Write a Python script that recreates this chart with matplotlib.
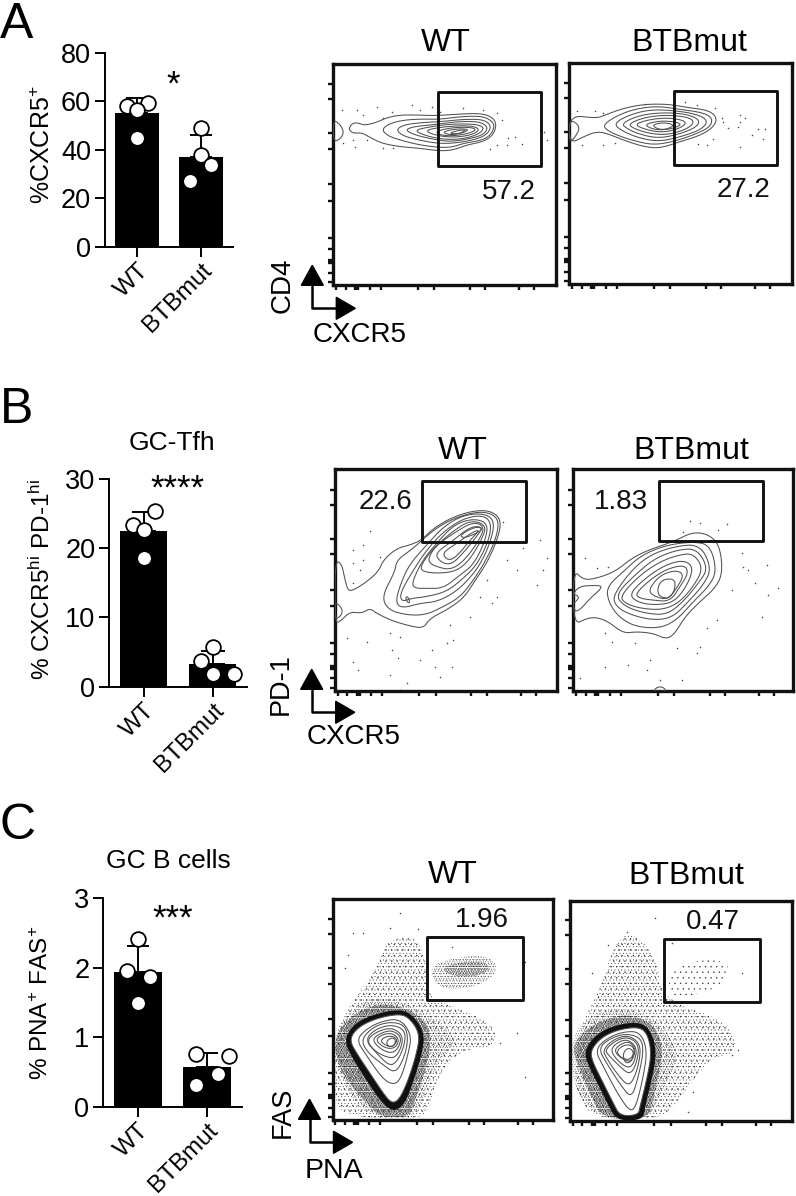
import matplotlib
matplotlib.use("Agg")
import matplotlib.pyplot as plt
from matplotlib.patches import Polygon, Rectangle
import numpy as np

plt.rcParams['font.family'] = ['Liberation Sans', 'DejaVu Sans']
plt.rcParams['mathtext.fontset'] = 'custom'
plt.rcParams['mathtext.rm'] = 'Liberation Sans'
plt.rcParams['mathtext.default'] = 'rm'
plt.rcParams['hatch.linewidth'] = 0.2

W, H = 796, 1196

# bar data
groups = ['WT', 'BTBmut']
a_means = [55, 37]
a_tops = [61.5, 46]
a_wt = [58.2, 59.3, 56.4, 44.7]
a_wt_x = [-0.16, 0.167, 0, 0]
a_mut = [49, 37.7, 33.6, 27]
a_mut_x = [0, 0, 0.156, -0.167]

b_means = [22.5, 3.3]
b_tops = [25.3, 5.1]
b_wt = [23.3, 25.4, 22.6, 18.6]
b_wt_x = [-0.155, 0.164, 0, 0]
b_mut = [5.8, 3.7, 1.8, 1.9]
b_mut_x = [0, -0.174, 0, 0.31]

c_means = [1.94, 0.576]
c_tops = [2.31, 0.78]
c_wt = [2.42, 1.96, 1.87, 1.5]
c_wt_x = [0, -0.164, 0.173, 0]
c_mut = [0.76, 0.73, 0.47, 0.31]
c_mut_x = [-0.163, 0.317, 0.154, -0.159]

# flow axis tick places, counted from the lower left corner of a frame
flow_ticks = [8, 37, 65, 70, 75, 109, 142, 253, 302, 409, 455, 557, 602]

# contour outlines, biggest first
a_wt_lines = [
    [(40, 208), (62, 225), (72, 248), (60, 268), (40, 275)],
    [(88, 232), (100, 218), (118, 220), (135, 226), (170, 217), (200, 203), (240, 195), (290, 195), (350, 197), (420, 192), (480, 190), (515, 200), (530, 222), (520, 255), (490, 275), (440, 285), (400, 300), (360, 303), (300, 295), (240, 290), (185, 280), (150, 262), (125, 248), (100, 250), (88, 240)],
    [(185, 240), (205, 222), (250, 210), (310, 207), (360, 208), (420, 200), (480, 198), (510, 208), (525, 228), (510, 258), (480, 272), (430, 280), (395, 292), (350, 292), (290, 283), (240, 270), (205, 258)],
    [(228, 240), (250, 225), (300, 218), (360, 215), (430, 208), (490, 208), (515, 228), (500, 255), (460, 270), (400, 280), (350, 280), (295, 270), (250, 258)],
    [(255, 240), (280, 230), (340, 224), (420, 214), (480, 215), (505, 232), (490, 255), (440, 268), (390, 275), (340, 268), (285, 255)],
    [(282, 242), (320, 232), (390, 222), (470, 222), (495, 235), (470, 256), (420, 268), (370, 268), (320, 258)],
    [(310, 242), (370, 230), (450, 226), (482, 238), (455, 255), (405, 262), (355, 258)],
    [(345, 244), (400, 232), (455, 232), (470, 240), (440, 252), (395, 258), (360, 255)],
    [(365, 246), (410, 236), (450, 238), (425, 250), (390, 255)],
    [(385, 250), (420, 240), (440, 240), (415, 252)],
]
a_mut_lines = [
    [(28, 205), (62, 230), (45, 262), (28, 280)],
    [(28, 195), (110, 205), (135, 195), (190, 175), (250, 163), (320, 162), (380, 172), (440, 180), (465, 195), (470, 215), (450, 240), (410, 260), (360, 275), (300, 295), (250, 290), (190, 270), (140, 250), (110, 245), (75, 258), (28, 282)],
    [(130, 225), (165, 200), (220, 178), (290, 168), (360, 178), (430, 188), (458, 205), (450, 232), (400, 255), (340, 275), (280, 285), (220, 272), (170, 255), (140, 240)],
    [(160, 222), (200, 198), (260, 180), (330, 180), (410, 192), (445, 212), (425, 238), (370, 258), (300, 275), (240, 265), (190, 245)],
    [(185, 222), (225, 200), (290, 188), (370, 190), (420, 208), (410, 232), (350, 255), (290, 265), (230, 250), (200, 235)],
    [(205, 222), (250, 203), (310, 195), (380, 200), (405, 215), (380, 238), (320, 255), (265, 250), (220, 235)],
    [(225, 222), (270, 208), (330, 203), (385, 215), (355, 238), (300, 248), (245, 235)],
    [(250, 224), (300, 212), (350, 216), (365, 225), (330, 238), (285, 240)],
    [(275, 225), (310, 217), (345, 225), (320, 238), (295, 238)],
]
b_wt_lines = [
    [(45, 272), (65, 280), (75, 330), (85, 365), (110, 355), (140, 335), (175, 305), (190, 270), (230, 235), (270, 225), (305, 210), (340, 175), (400, 140), (470, 120), (520, 125), (545, 155), (530, 215), (500, 280), (460, 340), (430, 385), (380, 420), (330, 445), (310, 475), (270, 468), (215, 452), (170, 430), (150, 415), (125, 430), (90, 425), (60, 455), (45, 458)],
    [(45, 395), (62, 410), (68, 425), (60, 440), (45, 448)],
    [(185, 380), (225, 305), (230, 270), (280, 235), (340, 180), (400, 145), (470, 125), (515, 130), (538, 155), (525, 215), (490, 285), (450, 345), (415, 385), (360, 415), (315, 435), (260, 435), (205, 420)],
    [(225, 395), (250, 320), (275, 275), (320, 225), (370, 170), (430, 135), (495, 130), (525, 155), (510, 220), (480, 285), (440, 335), (400, 370), (350, 395), (300, 400), (245, 415)],
    [(240, 370), (280, 300), (320, 240), (370, 185), (430, 145), (490, 135), (515, 160), (505, 215), (470, 285), (430, 325), (380, 365), (320, 380), (275, 385), (245, 395)],
    [(275, 340), (305, 275), (345, 225), (400, 165), (460, 145), (505, 160), (495, 215), (460, 285), (420, 315), (370, 355), (320, 355), (285, 355)],
    [(300, 290), (335, 240), (390, 190), (450, 150), (500, 165), (485, 210), (445, 275), (405, 305), (350, 310), (310, 305)],
    [(325, 265), (345, 230), (400, 190), (460, 155), (495, 170), (475, 215), (430, 275), (390, 300), (350, 290), (330, 280)],
    [(345, 250), (395, 215), (450, 170), (490, 170), (470, 200), (420, 260), (390, 285), (360, 275)],
    [(365, 250), (410, 220), (460, 185), (480, 180), (455, 205), (410, 260), (385, 272)],
    [(420, 195), (465, 170), (490, 175), (470, 190), (430, 205)],
    [(256, 385), (262, 378), (270, 395), (265, 400)],
]
b_mut_lines = [
    [(40, 298), (70, 330), (110, 325), (165, 305), (215, 265), (265, 240), (340, 215), (400, 185), (450, 195), (480, 230), (488, 310), (465, 355), (420, 395), (375, 440), (345, 490), (320, 508), (280, 490), (230, 485), (190, 490), (145, 455), (110, 442), (80, 445), (40, 465)],
    [(40, 350), (120, 345), (125, 355), (90, 385), (60, 420), (40, 425)],
    [(40, 372), (58, 380), (48, 395), (40, 398)],
    [(140, 350), (195, 300), (245, 255), (320, 225), (400, 215), (450, 225), (470, 300), (450, 345), (400, 395), (350, 450), (300, 475), (225, 470), (175, 440), (145, 395)],
    [(160, 375), (215, 300), (270, 255), (340, 230), (420, 222), (455, 295), (430, 345), (385, 395), (335, 445), (270, 450), (200, 430), (165, 405)],
    [(165, 375), (230, 310), (285, 265), (350, 240), (410, 235), (445, 295), (415, 340), (370, 395), (320, 435), (255, 430), (195, 410)],
    [(180, 378), (240, 315), (300, 275), (355, 255), (400, 250), (430, 295), (400, 350), (355, 400), (305, 420), (240, 415), (195, 400)],
    [(205, 375), (255, 325), (315, 285), (370, 270), (400, 290), (385, 340), (345, 395), (295, 405), (240, 400)],
    [(225, 372), (275, 325), (325, 295), (375, 285), (385, 310), (360, 350), (330, 395), (275, 390), (240, 385)],
    [(265, 360), (300, 315), (350, 300), (372, 315), (350, 355), (322, 390), (280, 378)],
    [(290, 375), (300, 330), (345, 325), (345, 360), (325, 388)],
    [(280, 664), (290, 652), (308, 650), (320, 664)],
]
c_wt_lines = [
    [(88, 450), (110, 415), (160, 388), (230, 372), (265, 380), (300, 430), (290, 490), (265, 570), (240, 625), (220, 640), (200, 625), (150, 550), (110, 490)],
    [(110, 450), (135, 420), (180, 395), (240, 385), (275, 435), (265, 490), (245, 560), (225, 585), (190, 570), (135, 490)],
    [(122, 450), (160, 410), (210, 395), (255, 405), (265, 450), (250, 510), (225, 550), (190, 525), (145, 490)],
    [(135, 450), (165, 418), (215, 403), (255, 420), (255, 460), (235, 510), (210, 530), (170, 490)],
    [(140, 450), (170, 425), (215, 412), (248, 435), (245, 470), (225, 505), (195, 500), (160, 480)],
    [(155, 450), (180, 430), (215, 420), (245, 440), (235, 475), (215, 490), (185, 480)],
    [(165, 450), (190, 432), (220, 430), (238, 450), (225, 475), (195, 475)],
    [(180, 452), (200, 438), (225, 440), (232, 455), (215, 472), (195, 465)],
    [(198, 455), (215, 442), (228, 450), (222, 468), (205, 470)],
]
c_mut_lines = [
    [(90, 485), (120, 445), (170, 420), (235, 410), (262, 430), (275, 490), (260, 570), (240, 650), (235, 675), (180, 678), (160, 640), (120, 560), (100, 520)],
    [(105, 480), (140, 445), (190, 425), (240, 425), (262, 480), (250, 560), (228, 650), (210, 665), (175, 615), (130, 530)],
    [(115, 475), (150, 445), (200, 430), (245, 445), (250, 490), (235, 560), (215, 625), (185, 590), (140, 520)],
    [(128, 480), (160, 448), (205, 435), (240, 460), (240, 505), (225, 560), (205, 590), (170, 550), (140, 505)],
    [(135, 480), (165, 452), (205, 440), (238, 465), (230, 520), (210, 555), (180, 530), (145, 495)],
    [(150, 480), (175, 455), (205, 448), (232, 475), (222, 520), (205, 535), (175, 515)],
    [(160, 482), (185, 460), (210, 455), (228, 480), (215, 515), (190, 510)],
    [(168, 485), (190, 465), (215, 465), (225, 485), (210, 510), (185, 505)],
    [(188, 490), (205, 472), (222, 485), (215, 515), (195, 520)],
]

# loose events around the contours
a_wt_dots = [(65, 180), (110, 180), (130, 195), (170, 172), (190, 205), (215, 185), (275, 165), (300, 180), (335, 170), (360, 185), (430, 175), (490, 180), (530, 190), (545, 210), (105, 290), (140, 270), (190, 295), (220, 295), (510, 297), (530, 285), (560, 285), (565, 265), (585, 262), (605, 283), (660, 240), (672, 245), (680, 270), (70, 280), (100, 270)]
a_mut_dots = [(50, 182), (105, 182), (130, 190), (255, 162), (375, 155), (410, 165), (465, 175), (485, 205), (490, 215), (505, 235), (540, 195), (555, 205), (540, 215), (535, 232), (575, 255), (595, 238), (615, 238), (610, 268), (540, 290), (130, 285), (165, 280), (415, 282), (440, 285), (460, 268), (65, 285)]
b_wt_dots = [(150, 183), (100, 240), (130, 225), (180, 260), (100, 280), (120, 300), (100, 340), (130, 270), (80, 505), (140, 515), (210, 490), (240, 500), (215, 540), (235, 565), (100, 575), (115, 600), (210, 615), (260, 640), (240, 660), (335, 540), (380, 520), (345, 590), (395, 590), (360, 620), (400, 510), (450, 440), (480, 380), (530, 380), (500, 330), (560, 270), (590, 300), (650, 345), (660, 210), (680, 265), (670, 300), (550, 155), (610, 235), (300, 570), (390, 465), (515, 400)]
b_mut_dots = [(75, 265), (110, 295), (145, 290), (155, 515), (135, 490), (225, 520), (270, 570), (205, 585), (135, 590), (60, 625), (260, 600), (350, 535), (410, 550), (420, 530), (365, 630), (300, 630), (440, 475), (470, 450), (515, 360), (550, 290), (565, 300), (620, 285), (655, 355), (625, 375), (605, 440), (390, 153), (420, 158), (500, 163), (475, 180), (370, 185), (545, 250), (585, 340)]
c_wt_dots = [(240, 70), (130, 130), (100, 130), (210, 115), (295, 118), (85, 195), (75, 235), (590, 430), (615, 560), (540, 460), (615, 215), (395, 170)]
c_mut_dots = [(285, 85), (200, 125), (145, 165), (175, 165), (95, 250), (115, 320), (545, 250), (535, 480), (515, 495), (385, 665), (400, 605), (335, 160)]

# dot clouds in panel C, as outlines with a dotted fill
c_wt_sparse = [(45, 470), (60, 390), (110, 320), (180, 220), (190, 160), (280, 130), (320, 210), (320, 320), (400, 350), (520, 400), (530, 470), (420, 480), (350, 560), (330, 660), (290, 688), (60, 680), (42, 600)]
c_wt_medium = [(42, 440), (80, 375), (150, 320), (230, 330), (320, 370), (420, 450), (380, 480), (330, 560), (300, 650), (270, 685), (170, 685), (90, 620), (50, 530)]
c_wt_dense = [(42, 450), (75, 395), (130, 355), (200, 340), (285, 365), (335, 420), (325, 510), (300, 590), (275, 660), (260, 682), (180, 680), (150, 650), (95, 590), (55, 530)]
c_wt_band = [(72, 450), (100, 403), (155, 375), (230, 358), (275, 370), (315, 430), (305, 495), (280, 575), (255, 640), (225, 665), (190, 645), (135, 565), (95, 500)]
c_wt_gate = [(335, 225), (400, 205), (480, 195), (530, 215), (525, 255), (470, 290), (380, 300), (335, 270)]
c_wt_core = [(370, 230), (430, 215), (500, 215), (510, 245), (440, 265), (375, 250)]
c_mut_sparse = [(55, 420), (120, 300), (160, 170), (210, 120), (290, 200), (305, 330), (500, 390), (540, 490), (450, 500), (350, 640), (300, 688), (100, 688), (40, 600)]
c_mut_medium = [(35, 440), (80, 385), (170, 350), (280, 380), (360, 480), (330, 560), (290, 640), (260, 688), (130, 688), (65, 630), (35, 560)]
c_mut_dense = [(34, 470), (75, 420), (140, 385), (210, 372), (285, 405), (310, 480), (295, 560), (275, 650), (260, 685), (130, 688), (95, 620), (60, 540)]
c_mut_band = [(72, 485), (105, 435), (165, 405), (240, 395), (275, 425), (290, 490), (275, 570), (255, 650), (250, 690), (170, 692), (145, 645), (105, 565), (85, 525)]
c_mut_gate = [(330, 240), (410, 210), (490, 210), (515, 250), (460, 300), (380, 320), (325, 325)]


def smooth(pts, rounds=3):
    pts = np.array(pts, float)
    for _ in range(rounds):
        nxt = np.roll(pts, -1, axis=0)
        pts = np.column_stack([0.75 * pts + 0.25 * nxt, 0.25 * pts + 0.75 * nxt]).reshape(-1, 2)
    return pts


def flow(crop, frame, gate, pct, pct_xy, lines, dots, clouds=()):
    x0, x1, y0, y1 = frame
    ax = fig.add_axes([(crop[0] + x0 / 3) / W, 1 - (crop[1] + y1 / 3) / H, (x1 - x0) / 3 / W, (y1 - y0) / 3 / H])
    ax.set_xlim(x0, x1)
    ax.set_ylim(y1, y0)
    for pts, hatch in clouds:
        if hatch == 'solid':
            ax.add_patch(Polygon(smooth(pts), facecolor='#111111', edgecolor='none', zorder=1))
        else:
            ax.add_patch(Polygon(smooth(pts), facecolor='none', edgecolor='#222222', lw=0, hatch=hatch, zorder=1))
    if dots:
        ax.scatter([p[0] for p in dots], [p[1] for p in dots], s=1.2, c='#444444', linewidths=0, zorder=2)
    for i, pts in enumerate(lines):
        fill = 'white' if clouds and i == 0 else 'none'
        ax.add_patch(Polygon(smooth(pts), facecolor=fill, edgecolor='#505050', lw=0.75, zorder=3))
    ax.add_patch(Rectangle((gate[0], gate[1]), gate[2] - gate[0], gate[3] - gate[1], fill=False, ec='#111111', lw=2.1, zorder=4, joinstyle='round'))
    ax.text(pct_xy[0], pct_xy[1], pct, fontsize=20, ha='center', va='center', color='#111111', zorder=5)
    ax.set_xticks([x0 + t for t in flow_ticks])
    ax.set_yticks([y1 - t for t in flow_ticks])
    ax.tick_params(length=3.5, width=1.7, labelbottom=False, labelleft=False, color='#111111')
    for s in ax.spines.values():
        s.set_linewidth(2.4)
        s.set_color('#111111')
    return ax


def bars(left, right, y0, y1, means, tops, wt, wt_x, mut, mut_x, ymax, yticks, ylabel, star, star_xy, capsize, label_y):
    ax = fig.add_axes([left / W, 1 - y0 / H, (right - left) / W, (y0 - y1) / H])
    ax.bar([0, 1], means, width=0.69, color='black', zorder=1)
    ax.errorbar([0, 1], means, yerr=[[0, 0], np.array(tops) - np.array(means)], fmt='none', ecolor='black', elinewidth=1.4, capsize=capsize, capthick=1.4, zorder=2)
    ax.scatter(np.array(wt_x), wt, s=112, facecolor='white', edgecolor='black', linewidths=1.3, zorder=3, clip_on=False)
    ax.scatter(1 + np.array(mut_x), mut, s=112, facecolor='white', edgecolor='black', linewidths=1.3, zorder=3, clip_on=False)
    ax.set_xlim(-0.5, 1.5)
    ax.set_ylim(0, ymax)
    ax.set_yticks(yticks)
    ax.set_xticks([0, 1])
    ax.set_xticklabels(groups, rotation=45, ha='right', rotation_mode='anchor', fontsize=17.5)
    ax.tick_params(axis='y', labelsize=19.5, length=7, width=1.4, pad=3)
    ax.tick_params(axis='x', length=7, width=1.4, pad=2)
    for s in ['top', 'right']:
        ax.spines[s].set_visible(False)
    for s in ['left', 'bottom']:
        ax.spines[s].set_linewidth(1.4)
    over.text(label_y[0], label_y[1], ylabel, rotation=90, ha='center', va='center', fontsize=label_y[2])
    over.text(star_xy[0], star_xy[1], star, ha='center', va='center', fontsize=25)
    return ax


def arrows(cx, cy):
    over.plot([cx, cx, cx + 26], [cy - 24, cy, cy], color='black', lw=1.8, zorder=2)
    over.add_patch(Polygon([(cx, cy - 43), (cx - 11, cy - 23), (cx + 11, cy - 23)], color='black'))
    over.add_patch(Polygon([(cx + 24, cy - 11), (cx + 24, cy + 11), (cx + 43, cy)], color='black'))


fig = plt.figure(figsize=(W / 100, H / 100), dpi=100)
over = fig.add_axes([0, 0, 1, 1], zorder=10)
over.set_xlim(0, W)
over.set_ylim(H, 0)
over.axis('off')

for letter, x, y in [('A', 17, 38), ('B', 17, 423), ('C', 18, 839)]:
    over.text(x, y, letter, fontsize=36, ha='center', va='baseline')

for label, x, y in [('WT', 446, 43), ('BTBmut', 689, 43), ('WT', 463, 451), ('BTBmut', 691, 451), ('WT', 453, 875), ('BTBmut', 686, 876)]:
    over.text(x, y, label, fontsize=23, ha='center', va='center')

over.text(172, 443, 'GC-Tfh', fontsize=19, ha='center', va='center')
over.text(168, 861, 'GC B cells', fontsize=19, ha='center', va='center')

bars(105, 233, 247, 52.7, a_means, a_tops, a_wt, a_wt_x, a_mut, a_mut_x, 80, [0, 20, 40, 60, 80],
     '%CXCR5$^{+}$', '*', (173, 85), 7.8, (43, 145, 18))
bars(109.3, 247, 686.7, 479, b_means, b_tops, b_wt, b_wt_x, b_mut, b_mut_x, 30, [0, 10, 20, 30],
     '% CXCR5$^{hi}$ PD-1$^{hi}$', '****', (177, 489), 8.9, (42, 580, 17.5))
bars(103.3, 241.7, 1106.7, 898.3, c_means, c_tops, c_wt, c_wt_x, c_mut, c_mut_x, 3, [0, 1, 2, 3],
     '% PNA$^{+}$ FAS$^{+}$', '***', (173, 919), 7.8, (42, 1003, 17.5))

flow((320, 50), (40, 708, 42, 705), (355, 127, 663, 348), '57.2', (567, 425), a_wt_lines, a_wt_dots)
flow((560, 50), (28, 695, 38, 702), (343, 122, 651, 344), '27.2', (551, 420), a_mut_lines, a_mut_dots)
flow((320, 470), (45, 712, -3, 662), (306, 33, 618, 215), '22.6', (196, 95), b_wt_lines, b_wt_dots)
flow((560, 470), (40, 700, -3, 662), (298, 33, 610, 213), '1.83', (183, 95), b_mut_lines, b_mut_dots)
flow((320, 890), (38, 700, 28, 690), (321, 140, 608, 330), '1.96', (485, 90), c_wt_lines, c_wt_dots,
     [(c_wt_sparse, '...'), (c_wt_sparse, '.....'), (c_wt_medium, '.......'), (c_wt_dense, '...........'), (c_wt_dense, '.........'), (c_wt_dense, '.............'),
      (c_wt_band, 'solid'), (c_wt_gate, '.....'), (c_wt_gate, '.......'), (c_wt_core, '.........'), (c_wt_core, '...........')])
flow((560, 890), (30, 697, 33, 692), (313, 147, 600, 335), '0.47', (460, 97), c_mut_lines, c_mut_dots,
     [(c_mut_sparse, '...'), (c_mut_sparse, '.....'), (c_mut_medium, '.......'), (c_mut_dense, '...........'), (c_mut_dense, '.........'), (c_mut_dense, '.............'),
      (c_mut_band, 'solid'), (c_mut_gate, '...')])

arrows(312.3, 308.3)
over.text(283, 285, 'CD4', rotation=90, fontsize=20, ha='center', va='center')
over.text(360, 335, 'CXCR5', fontsize=20, ha='center', va='center')
arrows(311.7, 712.3)
over.text(281, 684, 'PD-1', rotation=90, fontsize=19.5, ha='center', va='center')
over.text(354, 737, 'CXCR5', fontsize=20, ha='center', va='center')
arrows(309.5, 1142.3)
over.text(283, 1112, 'FAS', rotation=90, fontsize=19.5, ha='center', va='center')
over.text(334, 1171, 'PNA', fontsize=20.5, ha='center', va='center')

fig.savefig('out.png', dpi=100)
